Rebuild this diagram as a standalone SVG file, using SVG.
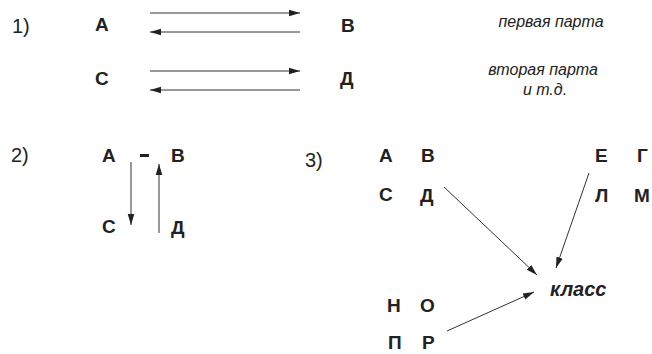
<svg xmlns="http://www.w3.org/2000/svg" width="652" height="354" viewBox="0 0 652 354">
<defs>
<marker id="ah" viewBox="0 0 10 10" refX="10" refY="5" markerWidth="11" markerHeight="11" markerUnits="userSpaceOnUse" orient="auto">
<path d="M0,2 L10,5 L0,8 z" fill="#222"/>
</marker>
<style>
.n{font-family:"Liberation Sans",Arial,sans-serif;font-weight:bold;font-size:19px;fill:#222}
.num{font-family:"Liberation Sans",Arial,sans-serif;font-size:20px;fill:#222}
.it{font-family:"Liberation Sans",Arial,sans-serif;font-style:italic;font-size:16px;fill:#222}
.k{font-family:"Liberation Sans",Arial,sans-serif;font-style:italic;font-weight:bold;font-size:20px;fill:#222}
.c{stroke:#333;stroke-width:1;fill:none;marker-end:url(#ah)}
</style>
</defs>
<rect width="652" height="354" fill="#fff"/>
<g id="labels">
<text class="num" x="12" y="33">1)</text>
<text class="num" x="11" y="162">2)</text>
<text class="num" x="305" y="167">3)</text>
<text class="it" x="551" y="27" text-anchor="middle">первая парта</text>
<text class="it" x="543" y="75" text-anchor="middle">вторая парта</text>
<text class="it" x="545" y="95" text-anchor="middle">и т.д.</text>
</g>
<g id="s1-A"><text class="n" x="95" y="31">А</text></g>
<g id="s1-B"><text class="n" x="341" y="32">В</text></g>
<g id="s1-C"><text class="n" x="95" y="85">С</text></g>
<g id="s1-D"><text class="n" x="340" y="85">Д</text></g>
<g id="s2-A"><text class="n" x="102" y="162">А</text></g>
<g id="s2-dash"><rect x="140" y="154" width="9" height="3" fill="#222"/></g>
<g id="s2-B"><text class="n" x="171" y="162">В</text></g>
<g id="s2-C"><text class="n" x="102" y="233">С</text></g>
<g id="s2-D"><text class="n" x="171" y="234">Д</text></g>
<g id="s3-A"><text class="n" x="379" y="162">А</text></g>
<g id="s3-B"><text class="n" x="421" y="162">В</text></g>
<g id="s3-C"><text class="n" x="379" y="201">С</text></g>
<g id="s3-D"><text class="n" x="420" y="202">Д</text></g>
<g id="s3-E"><text class="n" x="595" y="162">Е</text></g>
<g id="s3-G"><text class="n" x="637" y="162">Г</text></g>
<g id="s3-L"><text class="n" x="595" y="202">Л</text></g>
<g id="s3-M"><text class="n" x="634" y="202">М</text></g>
<g id="s3-klass"><text class="k" x="550" y="296">класс</text></g>
<g id="s3-N"><text class="n" x="387" y="312">Н</text></g>
<g id="s3-O"><text class="n" x="420" y="312">О</text></g>
<g id="s3-P"><text class="n" x="388" y="349">П</text></g>
<g id="s3-R"><text class="n" x="422" y="349">Р</text></g>
<g id="connectors">
<line class="c" x1="150" y1="13" x2="300" y2="13"/>
<line class="c" x1="300" y1="32" x2="150" y2="32"/>
<line class="c" x1="150" y1="71" x2="300" y2="71"/>
<line class="c" x1="300" y1="90" x2="150" y2="90"/>
<line class="c" x1="131" y1="162" x2="131" y2="225"/>
<line class="c" x1="159" y1="233" x2="159" y2="164"/>
<line class="c" x1="444" y1="187" x2="537" y2="275"/>
<line class="c" x1="589" y1="173" x2="556" y2="268"/>
<line class="c" x1="447" y1="331" x2="534" y2="292"/>
</g>
</svg>
